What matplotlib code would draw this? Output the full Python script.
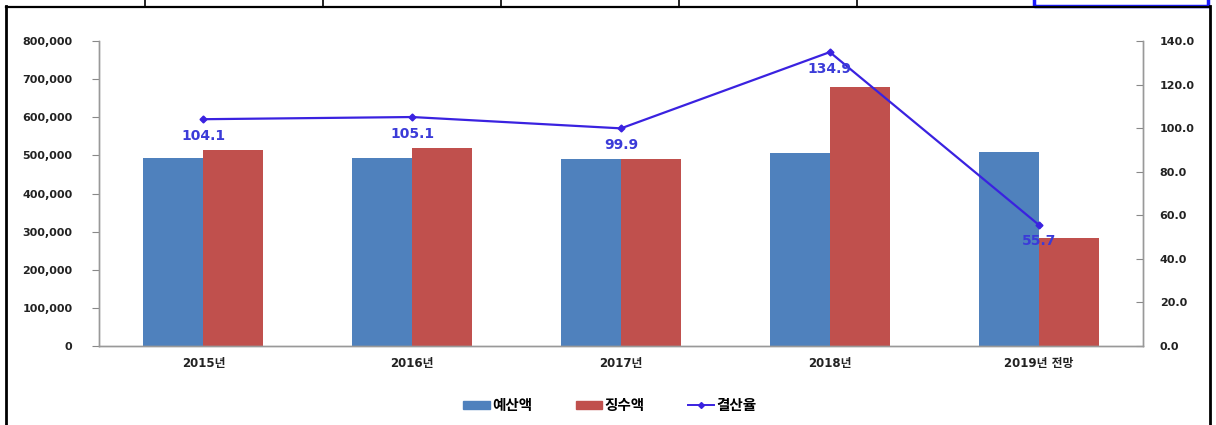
import matplotlib
matplotlib.use("Agg")
import matplotlib.pyplot as plt
from matplotlib.lines import Line2D
from matplotlib.patches import Patch, Rectangle
import numpy as np

categories = ["2015년", "2016년", "2017년", "2018년", "2019년 전망"]
budget = [493000, 493000, 490000, 506000, 509000]
collected = [514000, 519000, 490000, 679000, 283000]
ratio = [104.1, 105.1, 99.9, 134.9, 55.7]
ratio_labels = ["104.1", "105.1", "99.9", "134.9", "55.7"]
series_names = ["예산액", "징수액", "결산율"]

W, H = 1216, 425
fig = plt.figure(figsize=(W / 100, H / 100), dpi=100)
fig.patch.set_facecolor("white")

fam = ["DejaVu Sans", "Noto Sans CJK KR"]
kfam = ["Noto Sans CJK KR", "DejaVu Sans"]

# axes placement in pixels
x0, x1 = 99, 1143
y_top, y_bot = 41, 346
ax = fig.add_axes([x0 / W, 1 - y_bot / H, (x1 - x0) / W, (y_bot - y_top) / H])
ax2 = ax.twinx()

blue = "#4f81bd"
red = "#c0504d"
lc = "#3a22e0"

x = np.arange(len(categories))
bw = 0.287
ax.bar(x - bw / 2, budget, width=bw, color=blue, zorder=2)
ax.bar(x + bw / 2, collected, width=bw, color=red, zorder=2)
ax.set_xlim(-0.5, len(categories) - 0.5)
ax.set_ylim(0, 800000)
ax.set_yticks(np.arange(0, 800001, 100000))
ax.set_yticklabels([f"{v:,}" for v in range(0, 800001, 100000)],
                   fontsize=8, fontweight="bold", family=fam, color="#222222")
ax.set_xticks(x)
ax.set_xticklabels(categories, fontsize=8.5, fontweight="bold", family=fam, color="#222222")
ax.tick_params(axis="x", length=0, pad=8)
ax.tick_params(axis="y", direction="out", length=5, color="#888888", pad=14)

ax2.plot(x, ratio, color=lc, lw=1.6, marker="D", ms=3.5, zorder=5)
ax2.set_ylim(0, 140)
ax2.set_yticks(np.arange(0, 141, 20))
ax2.set_yticklabels([f"{v:.1f}" for v in range(0, 141, 20)],
                    fontsize=8, fontweight="bold", family=fam, color="#222222")
ax2.tick_params(axis="y", direction="in", length=5, color="#888888", pad=12)
for xi, v, t in zip(x, ratio, ratio_labels):
    ax2.annotate(t, (xi, v), xytext=(0, -12), textcoords="offset points",
                 ha="center", va="center", fontsize=10, fontweight="bold",
                 color="#3b3bd8", family=fam, zorder=6)

for a in (ax, ax2):
    for s in ("top",):
        a.spines[s].set_visible(False)
    for s in ("left", "right", "bottom"):
        a.spines[s].set_color("#999999")
        a.spines[s].set_linewidth(1.0)
ax.set_zorder(1)
ax2.set_zorder(2)
ax2.patch.set_visible(False)

handles = [Patch(color=blue), Patch(color=red),
           Line2D([0], [0], color=lc, lw=1.4, marker="D", ms=3)]
leg = fig.legend(handles, series_names, loc="center", bbox_to_anchor=(610 / W, 1 - 405 / H),
                 ncol=3, frameon=False, handlelength=1.8, handleheight=0.45,
                 columnspacing=3.0, handletextpad=0.15,
                 prop={"family": kfam, "weight": "bold", "size": 10.5})

# frame / table lines
def fl(xs, ys, lw=1.8, c="black"):
    fig.add_artist(Line2D([v / W for v in xs], [1 - v / H for v in ys],
                          color=c, lw=lw, transform=fig.transFigure))

fl([6, 1210], [6.5, 6.5], lw=1.6)
fl([6, 6], [6, 425], lw=2)
fl([1210, 1210], [6, 425], lw=2)
for vx in [145, 323, 501, 679, 857]:
    fl([vx, vx], [0, 6], lw=1.2)
fig.add_artist(Rectangle((1034 / W, 1 - 6 / H), (1208 - 1034) / W, 8 / H,
                         transform=fig.transFigure, fill=False,
                         edgecolor="#1a1aff", lw=2.5))

fig.savefig("out.png", dpi=100)
